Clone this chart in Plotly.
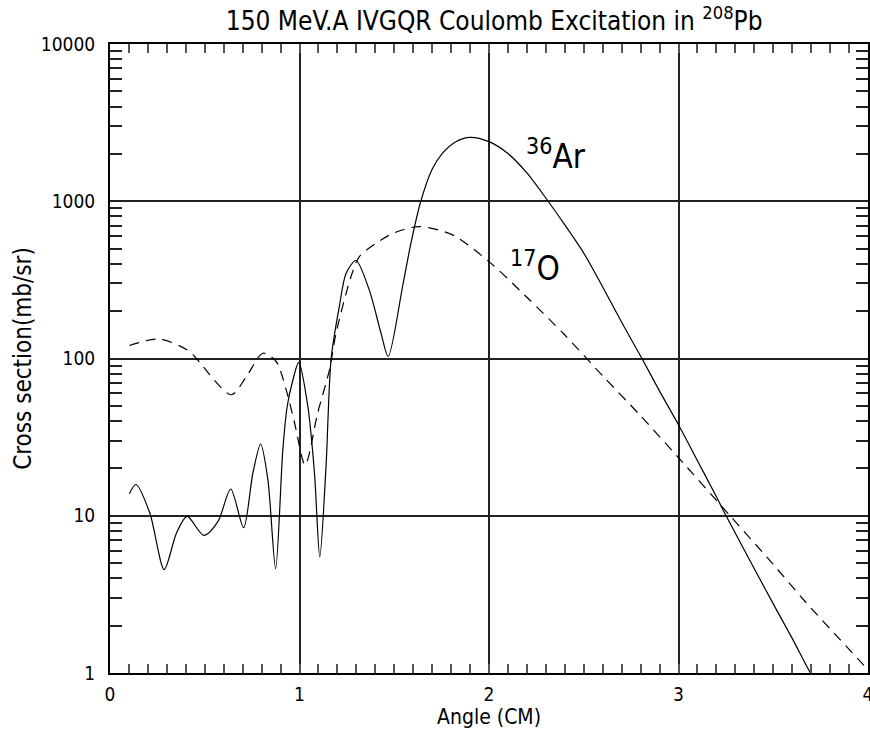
import plotly.graph_objects as go

# 36Ar (solid)
ar_angle = [0.102, 0.137, 0.21, 0.286, 0.351, 0.407, 0.495, 0.57, 0.637, 0.705,
            0.754, 0.795, 0.833, 0.874, 0.912, 0.935, 0.965, 0.996, 1.044, 1.079,
            1.107, 1.14, 1.167, 1.21, 1.246, 1.298, 1.368, 1.43, 1.468, 1.544,
            1.588, 1.64, 1.70, 1.754, 1.825, 1.90, 2.0, 2.1, 2.2, 2.312, 2.4,
            2.5, 2.6, 2.7, 2.807, 2.9, 3.0, 3.1, 3.2, 3.251, 3.4, 3.5, 3.6, 3.696, 3.75]
ar_xs = [13.8, 15.8, 10.4, 4.55, 7.78, 9.9, 7.5, 9.2, 14.8, 8.4,
         18.7, 28.6, 17.0, 4.6, 26.3, 49.5, 73.0, 94.4, 49.5, 18.7,
         5.47, 20.6, 100, 214, 349, 420, 273, 145, 103, 287,
         541, 1000, 1600, 2018, 2393, 2550, 2393, 2010, 1514, 1000, 708,
         468, 285, 170, 100, 62, 37.9, 22.4, 13.2, 10.0, 4.6, 2.75, 1.66, 1.0, 0.78]

# 17O (dashed)
o_angle = [0.102, 0.263, 0.42, 0.456, 0.64, 0.72, 0.807, 0.877, 0.93, 0.974,
           1.03, 1.096, 1.158, 1.193, 1.272, 1.316, 1.404, 1.50, 1.63, 1.807,
           2.0, 2.2, 2.4, 2.6, 2.8, 3.0, 3.272, 3.5, 3.667, 4.0]
o_xs = [121, 133, 111, 100, 58.8, 76.9, 108, 95.7, 63, 38.9,
        21, 45, 84.8, 145, 332, 445, 541, 630, 690, 611,
        413, 245, 141, 77.6, 43.2, 23.4, 10.0, 4.9, 2.86, 1.05]

y_tickvals = [1, 10, 100, 1000, 10000]
y_ticktext = ["1", "10", "100", "1000", "10000"]
x_tickvals = [0, 1, 2, 3, 4]

FONT = "DejaVu Sans Condensed, Liberation Sans Narrow, Liberation Sans, sans-serif"

fig = go.Figure()
fig.add_trace(go.Scatter(x=ar_angle, y=ar_xs, mode="lines",
                         line=dict(color="black", width=1.2, shape="spline", smoothing=0.8),
                         showlegend=False))
fig.add_trace(go.Scatter(x=o_angle, y=o_xs, mode="lines",
                         line=dict(color="black", width=1.2, dash="10px,7px", shape="spline", smoothing=0.8),
                         showlegend=False))

fig.add_annotation(x=2.185, y=3.30, xref="x", yref="y", text="<sup>36</sup>Ar",
                   xanchor="left", yanchor="middle",
                   showarrow=False, font=dict(family=FONT, size=33, color="black"))
fig.add_annotation(x=2.10, y=2.585, xref="x", yref="y", text="<sup>17</sup>O",
                   xanchor="left", yanchor="middle",
                   showarrow=False, font=dict(family=FONT, size=33, color="black"))

fig.update_layout(
    width=870, height=740,
    margin=dict(l=110, r=2, t=44, b=67),
    paper_bgcolor="white", plot_bgcolor="white",
    font=dict(family=FONT, color="black"),
    title=dict(text="150 MeV.A IVGQR Coulomb Excitation in <sup>208</sup>Pb",
               x=0.568, xanchor="center", y=0.972, yanchor="middle",
               font=dict(size=26, family=FONT, color="black")),
    xaxis=dict(range=[0, 4], tickvals=x_tickvals, ticktext=[str(v) for v in x_tickvals],
               automargin=False, ticklabeloverflow="allow",
               showline=True, linecolor="black", linewidth=2, mirror="allticks",
               ticks="inside", ticklen=0, tickcolor="black",
               showgrid=True, gridcolor="#222", gridwidth=2, zeroline=False,
               tickfont=dict(size=19, family=FONT, color="black"), ticklabelstandoff=3,
               minor=dict(dtick=0.1, ticks="inside", ticklen=9, tickcolor="#555", tickwidth=1.5, showgrid=False),
               title=dict(text="Angle (CM)", font=dict(size=21, family=FONT, color="black"), standoff=4)),
    yaxis=dict(type="log", range=[0, 4], tickvals=y_tickvals, ticktext=y_ticktext,
               automargin=False, ticklabeloverflow="allow",
               showline=True, linecolor="black", linewidth=2, mirror="allticks",
               ticks="inside", ticklen=0, tickcolor="black",
               showgrid=True, gridcolor="#222", gridwidth=2, zeroline=False,
               tickfont=dict(size=19, family=FONT, color="black"), ticklabelstandoff=9,
               minor=dict(dtick="D1", ticks="inside", ticklen=12, tickcolor="#222", tickwidth=1.5, showgrid=False),
               title=dict(text="Cross section(mb/sr)", font=dict(size=24, family=FONT, color="black"), standoff=2)),
)

fig.write_html("out.html", config={"displayModeBar": False},
               post_script="document.body.style.margin='0';")
